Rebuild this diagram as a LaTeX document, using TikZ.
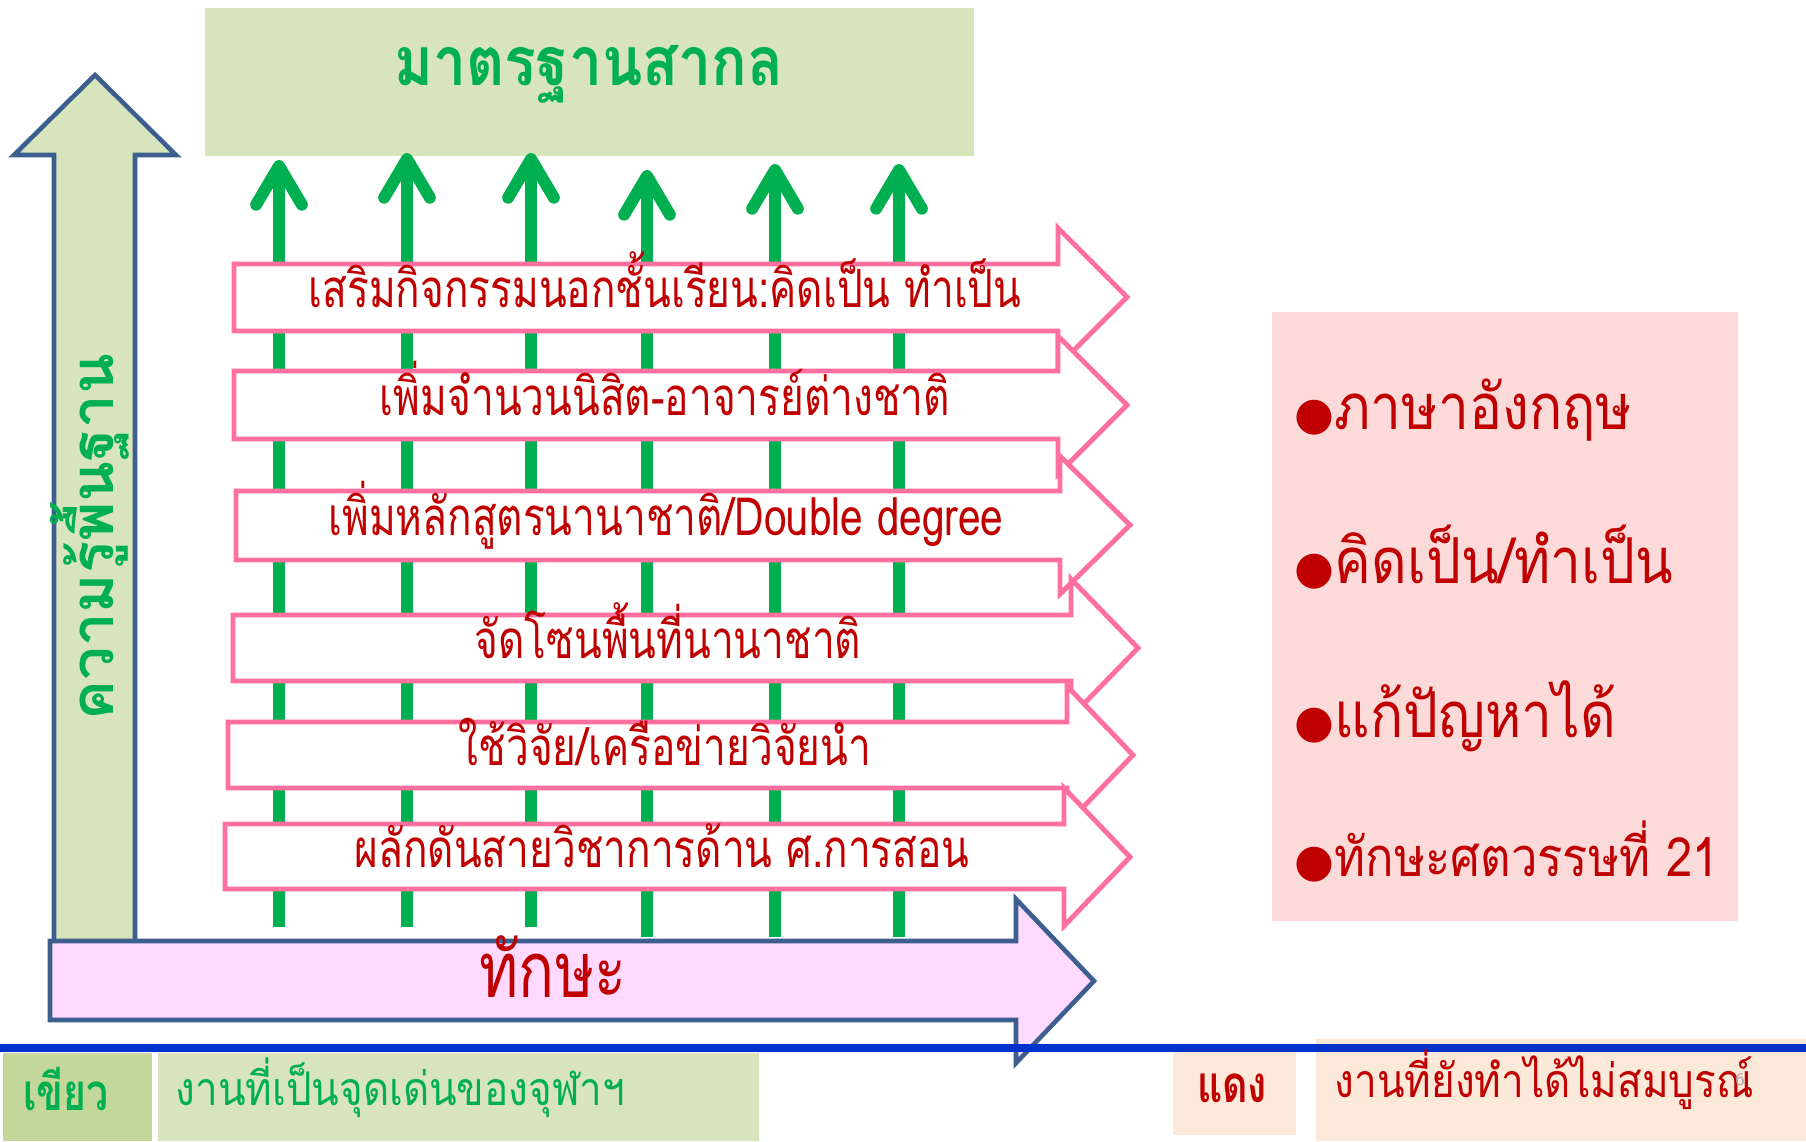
\documentclass[tikz,border=0pt]{standalone}
\usepackage{fontspec}
\newfontfamily\thaifont[Script=Thai]{Loma}
\newfontfamily\thaimid[Script=Thai,FakeStretch=0.87]{Loma}
\newfontfamily\thainarrow[Script=Thai,FakeStretch=0.77]{Loma}
\newfontfamily\symfont{DejaVu Sans}
\usetikzlibrary{arrows.meta}

\definecolor{ptgreen}{HTML}{00B050}
\definecolor{ptred}{HTML}{C00000}
\definecolor{ptpink}{HTML}{FF6F9F}
\definecolor{ptolive}{HTML}{D8E4BC}
\definecolor{ptolivedark}{HTML}{C4D79B}
\definecolor{ptrose}{HTML}{FCDADA}
\definecolor{ptpeach}{HTML}{FCE9DA}
\definecolor{ptmagenta}{HTML}{FFD9FF}
\definecolor{ptframe}{HTML}{3C5F8F}
\definecolor{ptblue}{HTML}{0033CC}

\newcommand{\bul}{{\symfont\fontsize{13}{13}\selectfont ●}}

\tikzset{
  growth/.style={draw=ptgreen, line width=3.4pt,
    -{Straight Barb[round,length=11pt,width=13pt]}},
  rowarrow/.style={draw=ptpink, fill=white, line width=1.4pt},
  bigarrow/.style={draw=ptframe, line width=1.3pt},
  rowtext/.style={text=ptred, anchor=base, inner sep=0pt,
    font=\thainarrow\fontsize{15}{18}\selectfont},
  goaltext/.style={text=ptred, anchor=base west, inner sep=0pt,
    font=\thaimid\fontsize{18}{22}\selectfont},
  keytext/.style={anchor=base, inner sep=0pt,
    font=\thainarrow\bfseries\fontsize{14.5}{17}\selectfont},
  notetext/.style={anchor=base west, inner sep=0pt,
    font=\thaimid\fontsize{13.2}{16}\selectfont}
}

\begin{document}
\begin{tikzpicture}[x=0.01cm, y=-0.01cm]
  \useasboundingbox (0,0) rectangle (1806,1141);

  % standard box on top
  \fill[ptolive] (205,8) rectangle (974,156);
  \node[anchor=base, inner sep=0pt, text=ptgreen,
    font=\thaimid\bfseries\fontsize{19.3}{23}\selectfont] (goal) at (589,85) {มาตรฐานสากล};

  % vertical arrow
  \filldraw[bigarrow, fill=ptolive] (54,945) -- (54,155) -- (14,155) -- (95,75)
    -- (176,155) -- (135,155) -- (135,945) -- cycle;
  \node[rotate=90, anchor=base, inner sep=0pt, text=ptgreen,
    font=\thaifont\bfseries\fontsize{17}{20}\selectfont] (base) at (113,537) {ความรู้พื้นฐาน};

  % green arrows
  \foreach \x/\top/\bot in {279/160/927, 407/153/927, 531/153/927,
                           647/170/937, 775/164/937, 899/164/937}
    \draw[growth] (\x,\bot) -- (\x,\top);

  % pink arrows
  \foreach \l/\t/\b/\r/\tip/\m in {234/264/331/1058/1127/297,
      234/371/439/1058/1127/405, 236/491/560/1060/1130/525,
      233/615/681/1071/1138/648, 228/722/788/1067/1133/755,
      225/824/889/1064/1130/857}
    \filldraw[rowarrow] (\l,\t) -- (\r,\t) -- (\r,\m-69) -- (\tip,\m)
      -- (\r,\m+69) -- (\r,\b) -- (\l,\b) -- cycle;

  \node[rowtext] (row1) at (665,307) {เสริมกิจกรรมนอกชั้นเรียน:คิดเป็น ทำเป็น};
  \node[rowtext] (row2) at (665,415) {เพิ่มจำนวนนิสิต-อาจารย์ต่างชาติ};
  \node[rowtext] (row3) at (666,535) {เพิ่มหลักสูตรนานาชาติ/Double degree};
  \node[rowtext] (row4) at (668,658) {จัดโซนพื้นที่นานาชาติ};
  \node[rowtext] (row5) at (665,765) {ใช้วิจัย/เครือข่ายวิจัยนำ};
  \node[rowtext] (row6) at (662,867) {ผลักดันสายวิชาการด้าน ศ.การสอน};

  % skills arrow
  \filldraw[bigarrow, fill=ptmagenta] (50,941) -- (1016,941) -- (1016,899)
    -- (1094,981) -- (1016,1063) -- (1016,1020) -- (50,1020) -- cycle;
  \node[anchor=base, inner sep=0pt, text=ptred,
    font=\thainarrow\fontsize{22}{26}\selectfont] (skill) at (553,997) {ทักษะ};

  % goals box
  \fill[ptrose] (1272,312) rectangle (1738,921);
  \node[goaltext] (g1) at (1294,429) {\bul ภาษาอังกฤษ};
  \node[goaltext] (g2) at (1294,583) {\bul คิดเป็น/ทำเป็น};
  \node[goaltext] (g3) at (1294,737) {\bul แก้ปัญหาได้};
  \node[goaltext, font=\thaimid\fontsize{15.4}{19}\selectfont] (g4) at (1294,876) {\bul ทักษะศตวรรษที่ 21};

  % legend
  \fill[ptolivedark] (3,1053) rectangle (152,1141);
  \fill[ptolive] (158,1053) rectangle (759,1141);
  \fill[ptpeach] (1173,1044) rectangle (1296,1135);
  \fill[ptpeach] (1316,1039) rectangle (1806,1141);
  \draw[ptblue, line width=2.3pt] (0,1048) -- (1806,1048);
  \node[keytext, text=ptgreen] (green) at (66,1110) {เขียว};
  \node[notetext, text=ptgreen] (greennote) at (175,1105) {งานที่เป็นจุดเด่นของจุฬาฯ};
  \node[keytext, text=ptred] (red) at (1232,1102) {แดง};
  \node[notetext, text=ptred] (rednote) at (1334,1097) {งานที่ยังทำได้ไม่สมบูรณ์};
  \node[anchor=base, inner sep=0pt, text=gray!70, font=\sffamily\fontsize{5}{6}\selectfont] (page) at (1740,1085) {6};
\end{tikzpicture}
\end{document}
